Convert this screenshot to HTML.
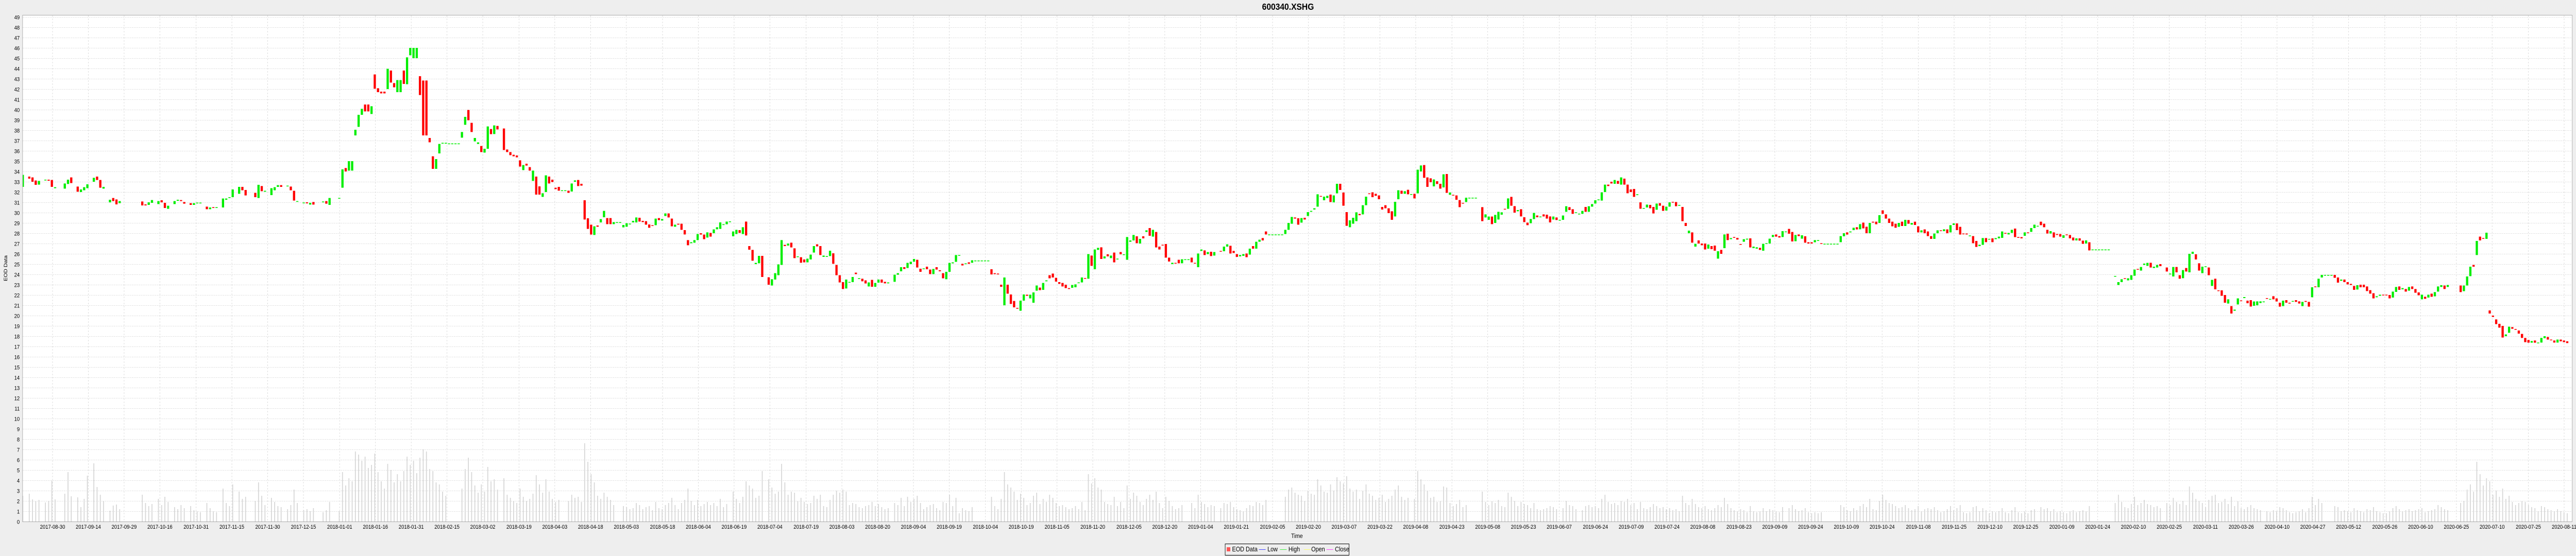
<!DOCTYPE html>
<html><head><meta charset="utf-8"><title>600340.XSHG</title>
<style>html,body{margin:0;padding:0;background:#eeeeee;overflow:hidden;width:100vw;height:100vh;}svg{display:block;font-family:"Liberation Sans",Arial,sans-serif;width:100vw;height:100vh;}</style>
</head><body>
<svg id="chart" viewBox="0 0 5760 1080" preserveAspectRatio="none" xmlns="http://www.w3.org/2000/svg">
<rect x="0" y="0" width="5760" height="1080" fill="#eeeeee"/>
<text x="2880" y="19" text-anchor="middle" font-size="18" font-weight="bold" fill="#000">600340.XSHG</text>
<rect x="50.5" y="29.5" width="5701" height="984" fill="#ffffff"/>
<g id="grid"></g>
<g id="yticks"></g>
<g id="xticks"></g>
<defs><clipPath id="pc"><rect x="50.5" y="29.5" width="5701" height="984"/></clipPath></defs>
<g id="vols" clip-path="url(#pc)"></g>
<g id="candles" clip-path="url(#pc)"></g>
<rect x="50.5" y="29.5" width="5701" height="984" fill="none" stroke="#aaaaaa" stroke-width="1"/>
<text transform="translate(16,521) rotate(-90)" text-anchor="middle" font-size="11" fill="#000">EOD Data</text>
<text x="2900" y="1045" text-anchor="middle" font-size="12" fill="#000">Time</text>
<g>
<rect x="2739.5" y="1056.5" width="277" height="22" fill="none" stroke="#000" stroke-width="1"/>
<rect x="2743" y="1063" width="8" height="8" fill="#ff5555"/>
<text x="2755" y="1071" font-size="12.5">EOD Data</text>
<line x1="2815" y1="1067.5" x2="2830" y2="1067.5" stroke="#4444ff"/>
<text x="2834" y="1071" font-size="12.5">Low</text>
<line x1="2862" y1="1067.5" x2="2877" y2="1067.5" stroke="#44ee44"/>
<text x="2881" y="1071" font-size="12.5">High</text>
<line x1="2916" y1="1067.5" x2="2931" y2="1067.5" stroke="#ffff66"/>
<text x="2932" y="1071" font-size="12.5">Open</text>
<line x1="2966" y1="1067.5" x2="2981" y2="1067.5" stroke="#ff44ff"/>
<text x="2985" y="1071" font-size="12.5">Close</text>
</g>
</svg>
<script>
const N=null;
const opens=[
32.5,N,33.5,33.42,33.12,32.72,N,33.15,33.2,33.17,
32.37,N,N,32.33,32.78,33.42,N,32.53,32.0,32.17,
32.37,N,33.0,33.5,33.17,32.33,N,31.0,31.42,31.28,
30.92,N,N,N,N,N,N,31.08,30.8,30.75,
30.95,N,30.83,31.2,30.95,30.37,N,30.83,31.15,31.22,
31.03,N,30.92,30.75,30.92,30.95,N,30.58,30.33,30.53,
30.45,N,30.5,31.25,31.42,31.5,N,31.83,32.5,32.2,
N,N,31.92,31.42,32.58,32.03,N,31.7,32.17,32.5,
32.67,N,32.55,32.53,32.12,31.05,N,30.92,31.0,30.78,
31.03,N,N,31.02,31.12,30.75,N,N,31.4,32.42,
34.33,34.08,34.08,37.5,38.33,39.5,40.5,40.5,39.58,43.42,
42.08,41.75,41.75,42.0,43.8,42.58,41.7,41.7,43.8,42.47,
45.28,45.0,45.0,43.25,42.83,42.83,37.25,35.47,34.25,35.75,
36.7,36.7,36.72,36.72,36.72,36.72,37.28,38.53,39.97,38.72,
36.92,36.67,36.47,35.83,36.2,38.12,37.63,38.42,N,38.17,
36.13,35.88,35.62,35.55,35.08,34.13,34.75,34.42,33.08,33.5,
32.55,31.53,32.0,33.5,33.2,32.42,32.5,32.17,32.17,32.13,
32.05,33.0,33.17,32.8,31.2,29.45,28.83,27.83,28.75,29.05,
29.55,29.47,29.47,28.88,29.08,29.08,28.57,28.63,28.87,29.05,
29.05,29.5,29.2,29.17,28.85,28.78,28.78,29.47,29.23,29.67,
29.92,29.42,28.63,28.92,28.92,28.3,27.33,27.03,27.08,27.33,
28.0,27.87,27.58,28.03,28.0,28.38,28.42,28.8,28.87,29.15,
27.7,27.92,28.3,27.92,29.13,26.75,26.38,25.0,25.08,25.8,
N,23.72,22.92,23.5,23.92,24.92,26.87,26.8,27.08,26.53,
25.7,25.67,25.45,25.17,25.45,26.12,26.92,26.75,25.7,25.7,
25.78,26.05,24.92,23.92,23.25,22.63,23.2,23.25,24.17,23.55,
23.58,23.42,22.83,23.47,22.8,23.2,23.5,23.28,23.13,N,
23.28,23.97,24.3,24.7,24.62,25.0,25.23,25.42,24.55,24.52,
24.75,24.47,24.03,24.7,24.4,24.12,23.53,24.25,25.07,25.22,
25.88,25.03,25.0,25.17,25.13,25.35,25.35,25.35,25.35,25.35,
24.5,24.12,24.08,23.0,21.0,23.0,22.05,21.42,20.75,20.47,
21.45,22.03,21.67,21.25,22.42,22.72,22.5,23.33,23.92,24.08,
23.67,23.25,23.17,23.0,22.67,22.7,22.75,23.17,23.22,23.65,
23.58,25.83,24.5,26.38,26.63,25.55,25.95,25.58,26.12,25.45,
26.17,25.92,25.42,27.17,27.3,27.7,27.0,27.7,28.12,28.5,
27.67,28.12,26.7,26.88,26.95,25.63,25.0,25.12,25.42,25.08,
25.47,25.47,25.63,25.12,24.7,26.28,26.33,25.97,26.2,25.83,
N,26.28,26.25,26.7,26.78,26.28,25.97,25.75,25.8,26.03,
25.92,26.75,26.5,27.17,27.53,28.17,27.88,27.88,27.88,27.88,
27.88,27.92,28.33,28.92,29.53,29.45,29.03,29.5,29.67,30.08,
30.3,30.58,31.62,31.2,31.42,31.75,31.0,31.87,32.8,31.95,
30.05,28.58,28.92,29.17,29.87,29.83,30.72,31.87,31.97,31.83,
31.67,30.55,30.72,30.42,30.13,29.63,31.3,32.13,31.83,32.22,
31.8,31.83,31.87,34.0,34.62,33.42,33.33,32.55,33.05,32.8,
32.45,33.75,31.73,31.73,31.67,31.22,30.95,31.03,31.45,31.45,
31.45,N,30.53,29.53,29.3,29.62,29.0,29.33,29.8,30.37,
30.37,31.53,30.63,30.13,30.33,29.55,29.03,28.97,29.37,29.72,
29.55,29.83,29.8,29.63,29.33,29.53,29.3,29.3,30.08,30.53,
30.33,30.0,29.9,29.88,30.55,30.08,30.58,30.88,31.2,31.17,
32.0,32.72,33.0,32.8,33.08,32.72,33.3,32.72,32.25,32.3,
31.7,31.0,30.38,30.5,30.75,30.55,30.28,30.92,30.67,30.2,
30.58,31.05,31.03,30.67,30.55,29.0,28.0,28.08,26.7,27.3,
27.0,27.0,26.5,26.75,26.8,25.53,26.38,26.55,27.95,27.42,
27.63,27.55,26.95,27.17,27.38,27.5,26.55,26.5,26.58,26.3,
26.97,27.0,27.63,27.88,27.72,27.63,28.17,28.42,28.12,27.22,
27.88,27.47,27.7,27.12,27.12,27.12,27.25,27.03,26.98,26.98,
26.98,26.98,26.98,27.13,27.7,28.08,28.08,28.3,28.58,28.38,
29.03,28.63,28.0,29.12,29.12,29.0,30.22,29.83,29.42,29.12,
28.92,28.62,29.12,28.7,29.28,28.83,29.12,28.67,28.08,28.37,
28.17,27.72,27.45,28.0,28.28,28.2,28.37,28.08,28.8,28.95,
28.62,27.97,27.97,27.72,27.72,27.25,26.75,26.87,27.53,27.38,
27.5,27.42,27.5,27.55,28.03,27.88,28.03,28.45,27.63,27.62,
27.75,28.08,28.13,28.5,28.72,29.12,28.92,28.33,27.97,28.08,
27.92,27.92,27.55,27.88,27.83,27.58,27.3,27.5,27.28,27.0,
27.12,26.42,26.42,26.42,26.42,26.42,26.42,N,23.85,22.97,
23.25,23.63,23.42,23.47,23.87,24.53,24.37,24.92,24.83,25.13,
24.62,24.67,25.0,N,24.67,24.0,23.8,24.72,23.92,23.63,
24.62,24.2,26.0,25.95,25.08,24.12,24.72,24.67,22.88,23.58,
22.45,22.45,22.0,21.17,20.92,20.47,21.08,21.47,21.7,21.45,
21.5,20.95,21.0,21.22,21.37,21.7,21.55,21.88,21.67,21.25,
20.92,21.5,21.25,21.38,21.5,21.38,20.92,21.42,21.33,21.78,
22.83,22.75,23.7,23.95,23.95,23.95,23.95,23.7,23.38,23.5,
23.25,23.08,22.88,22.53,23.0,23.0,22.83,22.47,22.17,21.78,
21.92,22.03,22.03,22.0,21.75,22.3,22.83,22.55,22.58,22.42,
22.83,22.58,22.25,21.58,21.83,21.75,22.13,21.87,22.33,22.78,
22.92,22.78,N,N,N,22.92,22.37,22.92,23.83,24.92,
25.88,27.67,27.53,27.45,20.5,20.0,19.63,19.2,19.0,18.0,
18.33,18.88,18.7,18.55,18.22,17.83,17.63,17.37,17.58,17.38,
17.38,17.8,17.92,17.67,17.58,17.38,17.67,17.58,17.5
];
const closes=[
33.67,N,33.3,33.0,32.7,33.08,N,33.2,33.1,32.5,
32.47,N,N,32.83,33.2,32.87,N,32.03,32.25,32.47,
32.75,N,33.38,33.17,32.42,32.5,N,31.25,31.12,30.8,
31.12,N,N,N,N,N,N,30.7,30.7,31.0,
31.22,N,31.12,31.0,30.45,30.67,N,31.12,31.25,31.12,
30.87,N,30.75,30.92,30.97,30.97,N,30.33,30.5,30.45,
30.53,N,31.37,31.37,31.5,32.25,N,32.5,32.17,31.67,
N,N,31.5,32.7,32.08,32.12,N,32.37,32.47,32.67,
32.5,N,32.62,32.17,31.17,31.12,N,30.98,30.9,30.95,
30.78,N,N,31.08,30.87,31.42,N,N,31.43,34.2,
34.0,35.0,35.0,38.05,39.5,40.08,39.83,39.83,40.33,42.03,
41.7,41.58,41.58,43.97,42.63,42.17,42.87,42.87,42.5,45.08,
46.0,46.0,46.0,41.42,37.5,37.5,36.83,34.25,35.2,36.67,
36.78,36.78,36.72,36.72,36.72,36.72,37.83,39.3,38.97,37.83,
37.25,36.82,35.88,36.2,38.37,37.62,38.47,38.08,N,36.08,
35.88,35.58,35.47,35.37,34.47,34.62,34.57,34.08,34.08,31.75,
31.75,31.88,33.62,32.83,32.97,32.28,32.13,32.17,32.17,31.92,
32.83,33.13,32.58,32.62,29.33,28.42,27.87,28.67,28.63,29.37,
30.17,28.88,28.88,29.08,29.08,29.08,28.8,28.97,28.93,29.2,
29.53,29.13,29.08,28.83,28.53,28.72,29.42,29.27,29.38,29.92,
29.53,28.67,28.83,28.83,28.33,27.88,26.83,27.13,27.33,27.92,
27.87,27.42,28.08,27.67,28.37,28.58,29.05,28.87,29.13,29.15,
28.17,28.33,28.03,28.58,27.78,26.4,25.33,25.12,25.8,23.75,
N,23.0,23.53,24.12,24.97,27.33,26.75,27.0,26.62,25.58,
25.75,25.13,25.17,25.53,25.92,26.75,26.72,25.88,25.83,25.78,
26.3,25.03,23.92,23.22,22.58,23.5,23.27,23.75,24.03,23.63,
23.33,23.12,23.22,22.8,23.17,23.5,23.2,23.13,23.22,N,
23.97,24.12,24.7,24.53,25.12,25.23,25.5,24.67,24.25,24.58,
24.5,24.03,24.53,24.47,24.3,23.62,24.25,25.12,25.17,25.88,
25.88,24.87,25.07,25.03,25.37,25.35,25.35,25.35,25.35,25.35,
24.0,24.03,24.0,22.8,23.7,22.13,21.13,20.8,20.67,21.45,
22.05,21.92,22.03,22.25,22.92,22.47,23.17,23.42,23.62,23.7,
23.3,23.08,22.83,22.67,22.58,22.97,23.03,23.22,23.7,23.58,
25.97,24.83,26.42,26.58,25.5,25.75,25.75,25.83,25.17,25.53,
25.95,25.95,27.63,27.3,27.83,27.03,27.45,27.5,28.28,27.75,
28.33,26.62,26.42,26.83,25.63,25.25,25.13,25.05,25.08,25.47,
25.47,25.47,25.17,25.05,26.03,26.42,25.88,26.17,25.78,26.17,
N,26.23,26.7,26.92,26.03,26.08,25.7,25.88,25.97,25.67,
26.5,26.5,27.17,27.37,27.3,27.88,27.88,27.88,27.88,27.88,
27.88,28.33,29.0,29.58,29.42,28.83,29.47,29.33,30.05,30.17,
30.42,31.78,31.57,31.55,31.63,31.03,31.67,32.8,32.2,30.67,
28.72,29.25,29.5,30.03,29.75,30.72,31.55,31.8,31.5,31.63,
31.3,30.3,30.42,29.95,29.3,31.05,32.17,31.83,32.08,31.78,
31.8,31.38,34.17,34.58,33.38,32.5,32.95,33.22,32.78,32.33,
33.72,31.92,31.95,31.67,31.25,30.53,30.88,31.45,31.45,31.45,
31.45,N,29.17,29.83,29.62,28.88,29.78,30.08,30.03,30.3,
31.38,30.67,30.0,30.25,29.63,29.08,28.78,29.38,29.97,29.55,
29.62,29.63,29.42,29.05,29.62,29.28,29.3,29.72,30.62,30.25,
29.88,30.03,29.9,30.17,30.08,30.62,30.83,31.2,31.28,31.97,
32.72,32.58,32.83,33.17,32.8,33.42,32.72,31.88,32.0,31.53,
31.78,30.38,30.45,30.78,30.42,29.92,30.88,30.67,30.17,30.58,
31.0,30.98,30.62,30.75,29.17,28.7,28.25,27.08,26.97,27.0,
26.83,26.42,26.9,26.45,26.3,26.25,26.0,27.88,27.33,27.53,
27.55,27.38,26.88,27.42,27.47,26.62,26.7,26.63,26.38,26.97,
27.03,27.47,27.83,27.67,27.58,28.2,28.17,27.95,27.2,27.83,
27.72,27.8,27.08,27.0,27.0,27.33,27.33,26.97,26.98,26.98,
26.98,26.98,26.98,27.72,28.0,27.87,28.17,28.53,28.37,28.88,
28.47,28.0,29.0,29.03,28.87,29.75,29.88,29.42,29.0,28.67,
28.53,29.0,28.7,29.3,28.92,29.0,28.8,28.08,28.28,28.0,
27.72,27.45,27.97,28.28,28.22,28.38,28.0,28.78,28.95,28.3,
27.87,27.92,27.88,27.78,27.03,26.67,26.88,27.53,27.13,27.45,
27.13,27.53,27.67,28.17,27.95,28.03,28.33,27.62,27.55,27.5,
28.08,28.03,28.5,28.83,28.72,28.78,28.58,27.97,28.2,27.58,
27.83,27.67,27.8,27.8,27.5,27.3,27.5,27.28,26.97,27.3,
26.33,26.42,26.42,26.42,26.42,26.42,26.42,N,23.85,23.25,
23.53,23.58,23.62,23.92,24.47,24.47,24.72,25.05,25.12,24.67,
24.75,24.92,24.8,N,24.28,24.08,24.72,24.2,23.58,24.42,
24.28,26.0,26.2,25.45,24.37,24.75,24.78,23.92,23.47,22.55,
22.38,21.92,21.25,21.58,20.2,20.58,21.67,21.42,21.8,21.2,
20.88,21.37,21.38,21.38,21.37,21.63,21.62,21.58,21.37,20.87,
21.45,21.25,21.17,21.42,21.33,21.17,21.33,21.33,20.87,22.75,
22.77,23.58,23.95,23.95,23.95,23.95,23.67,23.2,23.5,23.25,
23.03,22.97,22.5,22.95,22.75,22.75,22.38,22.13,21.67,21.88,
22.03,21.97,21.97,21.67,22.33,22.78,22.5,22.67,22.33,22.78,
22.58,22.22,21.97,22.03,21.63,22.03,21.83,22.28,22.83,22.95,
22.58,22.97,N,N,N,22.28,22.92,23.8,24.75,24.75,
27.25,27.3,27.47,28.05,20.2,19.87,19.17,18.83,17.87,18.17,
18.92,18.72,18.62,18.25,17.83,17.42,17.37,17.53,17.37,17.38,
17.83,18.0,17.67,17.62,17.38,17.67,17.5,17.42,17.33
];
const volumes=[
2.5,N,2.7,2.15,2.0,2.1,N,1.85,2.0,4.0,
2.15,N,N,2.7,4.8,2.45,N,2.35,1.4,2.2,
4.45,N,5.65,3.35,2.6,2.0,N,1.05,1.55,1.65,
1.2,N,N,N,N,N,N,2.6,1.8,1.5,
1.7,N,2.2,1.6,2.4,1.9,N,1.4,1.2,1.6,
1.3,N,1.5,1.1,1.0,0.9,N,1.8,1.3,1.0,
0.9,N,3.2,1.8,1.5,3.6,N,2.9,2.2,2.4,
N,N,2.0,3.8,2.5,1.6,N,2.3,1.9,1.5,
1.4,N,1.2,1.6,3.1,1.8,N,1.1,1.2,1.0,
1.3,N,N,0.9,1.1,1.9,N,N,1.0,4.8,
3.5,4.2,3.9,6.8,6.5,5.9,6.3,5.2,5.5,6.6,
4.8,3.9,3.2,5.6,5.0,3.8,4.6,3.9,4.9,6.3,
5.5,5.9,4.7,6.2,7.0,6.8,5.1,4.9,3.8,3.6,
2.9,2.5,0,0,0,0,3.2,5.1,6.2,4.8,
3.5,2.8,3.6,2.9,5.3,3.9,4.1,3.1,N,4.2,
2.6,2.3,2.0,1.8,3.2,2.4,2.0,2.2,2.7,4.5,
3.6,2.8,4.1,2.9,2.2,1.9,2.1,0,0,2.0,
2.6,2.3,2.4,1.9,7.6,5.8,4.6,3.8,2.5,2.2,
2.8,2.4,2.1,1.6,0,0,1.5,1.4,1.2,1.3,
1.8,1.6,1.2,1.4,1.5,1.1,1.9,1.3,1.2,1.6,
1.8,2.3,1.6,1.2,1.8,2.1,3.2,2.0,1.6,2.1,
1.5,1.7,1.9,1.6,1.8,1.5,2.2,1.4,1.7,0,
2.9,2.2,1.8,2.4,3.9,3.5,3.2,2.3,2.5,4.9,
N,4.1,3.3,2.7,2.9,5.6,3.8,2.6,2.9,2.8,
2.0,2.3,1.9,1.7,1.8,2.5,2.2,2.6,1.5,1.4,
2.1,2.6,3.0,2.8,3.1,2.9,1.6,1.8,1.7,1.4,
1.3,1.5,1.6,1.9,1.5,1.7,1.4,1.2,1.3,N,
1.8,1.6,2.3,1.5,2.4,1.9,2.2,2.5,1.8,1.2,
1.4,1.6,1.7,1.3,1.1,1.9,1.8,2.6,1.5,2.3,
0.8,1.3,1.1,1.0,1.4,0,0,0,0,0,
2.4,1.5,1.2,2.2,4.8,3.6,3.3,2.9,2.1,2.7,
2.3,1.6,1.8,2.5,2.8,1.7,2.2,1.9,2.6,2.3,
1.8,1.5,1.6,1.4,1.2,1.3,1.5,1.2,1.9,1.1,
4.6,3.7,4.2,3.3,3.1,1.9,1.7,1.6,2.4,1.5,
1.9,1.3,3.5,2.2,2.8,2.5,1.9,1.6,2.2,2.6,
2.1,2.9,1.8,1.3,2.4,2.0,1.5,1.2,1.3,1.6,
0,0,1.8,1.3,2.6,1.9,1.7,1.4,1.6,1.5,
N,1.3,1.8,1.7,1.9,1.4,1.2,1.1,1.0,1.3,
1.6,1.5,1.9,1.8,1.6,2.1,0,0,0,0,
0,2.4,3.1,3.3,2.8,2.6,2.5,2.0,3.0,2.7,
2.6,4.1,3.5,2.9,2.8,3.6,3.0,4.3,3.9,3.7,
4.4,3.2,2.9,3.1,2.2,3.0,3.6,2.7,2.5,2.1,
2.3,2.6,1.9,2.2,2.5,3.1,3.5,2.4,2.1,2.3,
0,2.2,4.9,4.1,3.6,3.0,2.3,2.4,1.9,2.0,
3.4,3.3,1.8,1.5,1.7,2.1,1.4,1.6,0,0,
0,N,2.9,1.9,1.6,2.0,1.8,2.1,1.5,1.4,
2.8,2.4,2.0,1.5,1.9,1.7,1.6,1.3,1.8,1.2,
1.1,1.2,1.3,1.5,1.4,1.2,0,1.3,2.0,1.6,
1.5,1.2,0,1.1,1.5,1.6,1.4,1.5,1.3,2.2,
2.6,1.9,1.7,1.8,1.6,2.0,1.9,2.2,1.6,1.8,
1.2,1.9,1.3,1.2,1.4,1.7,1.5,1.3,1.4,1.2,
1.3,1.1,1.2,1.0,2.5,1.8,1.6,2.2,1.7,1.4,
1.3,1.5,1.2,1.1,1.3,1.6,1.4,2.3,1.7,1.3,
1.1,1.0,1.2,1.1,0.9,1.5,1.0,0.9,1.0,1.3,
1.0,1.2,1.1,1.0,0.9,1.4,0,1.3,1.6,1.2,
1.0,1.1,1.3,0.9,0.8,0.9,0.8,0.9,0,0,
0,0,0,1.6,1.4,1.1,1.0,1.3,1.1,1.5,
1.7,1.4,2.2,1.2,1.1,2.0,2.6,2.1,1.8,1.7,
1.5,1.3,1.4,1.6,1.3,1.1,1.2,1.5,1.0,1.2,
1.3,1.2,1.4,1.1,0.9,1.0,1.2,1.5,1.1,1.3,
1.6,0.9,0.8,0.9,1.4,1.5,1.0,1.3,1.1,0.8,
1.0,0.9,1.0,1.3,0.9,0.8,1.1,1.4,0.9,0.8,
1.0,0.8,1.1,1.2,0,1.4,1.2,1.3,1.0,1.2,
0.9,1.0,0.9,0.8,1.0,1.1,0.9,1.0,1.1,1.0,
1.5,0,0,0,0,0,0,N,1.8,2.6,
1.9,1.4,1.3,1.7,2.4,1.6,1.8,2.1,1.7,1.6,
1.4,1.5,1.3,N,1.8,1.6,2.3,1.9,1.7,2.0,
1.6,3.4,2.8,2.2,2.0,1.8,1.4,2.1,2.5,2.6,
1.8,1.9,2.2,1.7,2.4,1.5,2.0,1.3,1.2,1.4,
1.6,1.3,1.2,1.1,0,1.0,0.9,1.1,1.0,1.4,
1.3,1.1,0.9,0.8,0.9,1.0,1.2,0.9,1.3,2.4,
1.6,2.2,1.8,0,0,0,1.5,1.4,1.0,1.1,
1.0,0.9,1.3,1.1,1.0,0.9,1.2,1.1,1.4,1.0,
0.9,0.8,0.8,1.0,1.3,1.5,1.2,1.0,1.1,1.2,
1.0,1.1,1.2,1.3,0.9,1.0,1.1,1.2,1.6,1.4,
1.2,1.1,N,N,N,1.8,2.0,3.1,3.6,2.9,
5.8,4.6,3.5,4.2,3.9,2.6,3.0,2.4,3.2,2.2,
2.5,1.9,1.6,1.8,2.0,1.9,1.6,1.4,1.3,1.0,
1.5,1.4,1.2,1.1,1.0,1.2,1.0,0.9,0.8
];
const yTickValues=[0,1,2,3,4,5,6,7,8,9,10,11,12,13,14,15,16,17,18,19,20,21,22,23,24,25,26,27,28,29,30,31,32,33,34,35,36,37,38,39,40,41,42,43,44,45,46,47,48,49];
const xTickLabels=["2017-08-30","2017-09-14","2017-09-29","2017-10-16","2017-10-31","2017-11-15","2017-11-30","2017-12-15","2018-01-01","2018-01-16","2018-01-31","2018-02-15","2018-03-02","2018-03-19","2018-04-03","2018-04-18","2018-05-03","2018-05-18","2018-06-04","2018-06-19","2018-07-04","2018-07-19","2018-08-03","2018-08-20","2018-09-04","2018-09-19","2018-10-04","2018-10-19","2018-11-05","2018-11-20","2018-12-05","2018-12-20","2019-01-04","2019-01-21","2019-02-05","2019-02-20","2019-03-07","2019-03-22","2019-04-08","2019-04-23","2019-05-08","2019-05-23","2019-06-07","2019-06-24","2019-07-09","2019-07-24","2019-08-08","2019-08-23","2019-09-09","2019-09-24","2019-10-09","2019-10-24","2019-11-08","2019-11-25","2019-12-10","2019-12-25","2020-01-09","2020-01-24","2020-02-10","2020-02-25","2020-03-11","2020-03-26","2020-04-10","2020-04-27","2020-05-12","2020-05-26","2020-06-10","2020-06-25","2020-07-10","2020-07-25","2020-08-11"];

const NS="http://www.w3.org/2000/svg";
function yOf(v){return 1013-20*v;}
function xOf(i){return 51+7.22*i;}
function tickX(k){return 116.7+80.23*k;}
function mk(tag,attrs,parent){const e=document.createElementNS(NS,tag);for(const k in attrs)e.setAttribute(k,attrs[k]);parent.appendChild(e);return e;}

const grid=document.getElementById('grid');
const yt=document.getElementById('yticks');
yTickValues.forEach(v=>{
  const y=Math.round(yOf(v))+0.5;
  if(v>0){const gl=mk('line',{x1:51,x2:5751,y1:y,y2:y,stroke:'#d8d8d8','stroke-width':1,'stroke-dasharray':'2,2'},grid);
  
  }
  const t=mk('text',{x:44,y:y+4,'text-anchor':'end','font-size':11,fill:'#000'},yt);
  t.textContent=String(v);
  
  
});
const xt=document.getElementById('xticks');
xTickLabels.forEach((lab,k)=>{
  const x=Math.round(tickX(k))+0.5;
  const gl=mk('line',{x1:x,x2:x,y1:30,y2:1013,stroke:'#d8d8d8','stroke-width':1,'stroke-dasharray':'3,3'},grid);
  
  
  const t=mk('text',{x:x,y:1027,'text-anchor':'middle','font-size':11,fill:'#000'},xt);
  t.textContent=lab;
  
  
});

const vg=document.getElementById('vols');
volumes.forEach((v,i)=>{
  if(v===null||v<=0)return;
  const r=mk('rect',{x:xOf(i)-1,y:yOf(v),width:2,height:yOf(0)-yOf(v),fill:'#d6d6d6'},vg);
  
  
});
const cg=document.getElementById('candles');
opens.forEach((o,i)=>{
  const c=closes[i];
  if(o===null||c===null)return;
  const up=c>=o;
  const top=yOf(Math.max(o,c)),bot=yOf(Math.min(o,c));
  const h=Math.max(1.5,bot-top);
  const r=mk('rect',{x:xOf(i)-2.5,y:top,width:5,height:h,fill:up?'#00ee00':'#ff0000'},cg);
  
  
});
</script>
</body></html>
